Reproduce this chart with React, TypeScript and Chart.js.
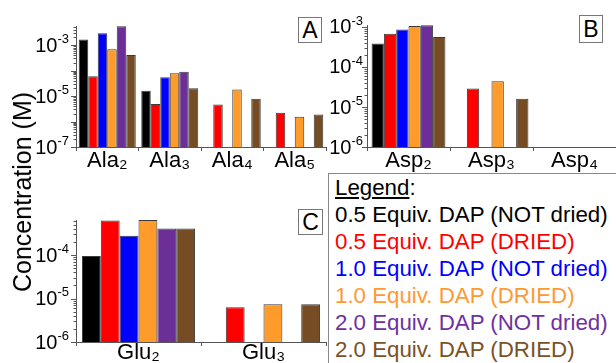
import React, { useEffect, useRef } from 'react';
import { Chart, registerables } from 'chart.js';
Chart.register(...registerables);

const FONT = '"Liberation Sans", Arial, "DejaVu Sans", sans-serif';

const SERIES_LABELS = [
  '0.5 Equiv. DAP (NOT dried)',
  '0.5 Equiv. DAP (DRIED)',
  '1.0 Equiv. DAP (NOT dried)',
  '1.0 Equiv. DAP (DRIED)',
  '2.0 Equiv. DAP (NOT dried)',
  '2.0 Equiv. DAP (DRIED)',
];
const BAR_COLORS = ['#000000', '#ff0000', '#0000ff', '#ff9b2a', '#6b2f97', '#754c24'];
const LEGEND_COLORS = ['#000000', '#ff0000', '#0000ff', '#ff9933', '#7030a0', '#7b5126'];

// Panel A
const A_CATEGORIES = ['Ala₂', 'Ala₃', 'Ala₄', 'Ala₅'];
const A_05_NOT = [1.66e-3, 1.6e-5, null, null];
const A_05_DRIED = [6.0e-5, 4.9e-6, 4.7e-6, 2.2e-6];
const A_10_NOT = [2.9e-3, 5.4e-5, null, null];
const A_10_DRIED = [6.8e-4, 7.8e-5, 1.8e-5, 1.55e-6];
const A_20_NOT = [5.5e-3, 8.9e-5, null, null];
const A_20_DRIED = [4.1e-4, 2.0e-5, 7.9e-6, 1.9e-6];
const A_TICK_VALUES = [1e-7, 1e-5, 1e-3];
const A_TICK_EXPONENTS = ['-7', '-5', '-3'];

// Panel B
const B_CATEGORIES = ['Asp₂', 'Asp₃', 'Asp₄'];
const B_05_NOT = [3.85e-4, null, null];
const B_05_DRIED = [6.8e-4, 2.9e-5, null];
const B_10_NOT = [8.6e-4, null, null];
const B_10_DRIED = [1.05e-3, 4.4e-5, null];
const B_20_NOT = [1.1e-3, null, null];
const B_20_DRIED = [5.6e-4, 1.6e-5, null];
const B_TICK_VALUES = [1e-6, 1e-5, 1e-4, 1e-3];
const B_TICK_EXPONENTS = ['-6', '-5', '-4', '-3'];

// Panel C
const C_CATEGORIES = ['Glu₂', 'Glu₃'];
const C_05_NOT = [9.5e-5, null];
const C_05_DRIED = [6.2e-4, 6.3e-6];
const C_10_NOT = [2.79e-4, null];
const C_10_DRIED = [6.4e-4, 7.4e-6];
const C_20_NOT = [4.1e-4, null];
const C_20_DRIED = [4.1e-4, 7.4e-6];
const C_TICK_VALUES = [1e-6, 1e-5, 1e-4];
const C_TICK_EXPONENTS = ['-6', '-5', '-4'];

const TICK_BASE = '10';

type PanelProps = {
  categories: string[];
  series: (number | null)[][];
  min: number;
  max: number;
  tickValues: number[];
  tickExponents: string[];
  left: number; top: number; width: number; height: number;
  yWidth: number; xHeight: number; padTop: number; padRight: number;
  catPct: number; yPad: number; xPad: number;
};

function makeYPlugin(p: PanelProps) {
  return {
    id: 'yTicksMarks',
    afterDraw(chart: any) {
      const s = chart.scales.y;
      const ctx = chart.ctx;
      ctx.save();
      ctx.strokeStyle = '#555';
      ctx.lineWidth = 1;
      for (const t of s.ticks) {
        const py = Math.round(s.getPixelForValue(t.value)) + 0.5;
        const len = t.major ? 5 : 2.5;
        ctx.beginPath();
        ctx.moveTo(s.right, py);
        ctx.lineTo(s.right - len, py);
        ctx.stroke();
      }
      // tick labels: base "10" with raised exponent
      ctx.fillStyle = '#000';
      const right = s.right - p.yPad;
      for (let i = 0; i < p.tickValues.length; i++) {
        const y = s.getPixelForValue(p.tickValues[i]);
        ctx.font = `13px ${FONT}`;
        const w2 = ctx.measureText(p.tickExponents[i]).width;
        ctx.font = `20px ${FONT}`;
        const w1 = ctx.measureText(TICK_BASE).width;
        ctx.textAlign = 'left';
        ctx.textBaseline = 'middle';
        ctx.fillText(TICK_BASE, right - w2 - w1, y + 1);
        ctx.font = `13px ${FONT}`;
        ctx.fillText(p.tickExponents[i], right - w2, y - 6);
      }
      ctx.restore();
    },
  };
}

function Panel(p: PanelProps) {
  const ref = useRef<HTMLCanvasElement | null>(null);
  useEffect(() => {
    if (!ref.current) return;
    const chart = new Chart(ref.current, {
      type: 'bar',
      data: {
        labels: p.categories,
        datasets: p.series.map((vals, i) => ({
          label: SERIES_LABELS[i],
          data: vals as any,
          backgroundColor: BAR_COLORS[i],
          borderColor: '#3a3a3a',
          borderWidth: 1,
          barPercentage: 1,
          categoryPercentage: p.catPct,
        })),
      },
      options: {
        animation: false,
        responsive: false,
        devicePixelRatio: 1,
        layout: { padding: { top: p.padTop, right: p.padRight, left: 0, bottom: 0 } },
        plugins: { legend: { display: false }, tooltip: { enabled: false }, title: { display: false } },
        scales: {
          x: {
            type: 'category',
            offset: true,
            grid: { display: true, drawOnChartArea: false, offset: true, tickLength: 4, tickColor: '#555' },
            border: { display: true, color: '#555', width: 1 },
            ticks: { color: '#000', font: { family: FONT, size: 22 }, padding: p.xPad, maxRotation: 0, autoSkip: false },
            afterFit: (s: any) => { s.height = p.xHeight; },
          },
          y: {
            type: 'logarithmic',
            min: p.min,
            max: p.max,
            grid: { display: false },
            border: { display: true, color: '#555', width: 1 },
            ticks: {
              color: '#000',
              font: { family: FONT, size: 20 },
              padding: p.yPad,
              autoSkip: false,
              callback: () => '',
            },
            afterBuildTicks: (s: any) => {
              const ticks: any[] = [];
              const e0 = Math.floor(Math.log10(p.min) + 1e-9);
              const e1 = Math.ceil(Math.log10(p.max) - 1e-9);
              for (let e = e0; e <= e1; e++) {
                for (let k = 1; k <= 9; k++) {
                  const v = k * Math.pow(10, e);
                  if (v >= p.min * (1 - 1e-9) && v <= p.max * (1 + 1e-9)) ticks.push({ value: v, major: k === 1 });
                }
              }
              s.ticks = ticks;
            },
            afterFit: (s: any) => { s.width = p.yWidth; },
          },
        },
      } as any,
      plugins: [makeYPlugin(p)],
    });
    return () => chart.destroy();
  }, []);
  return (
    <canvas
      ref={ref}
      width={p.width}
      height={p.height}
      style={{ position: 'absolute', left: p.left, top: p.top, width: p.width, height: p.height }}
    />
  );
}

const boxStyle = (left: number, top: number, w: number, h: number): React.CSSProperties => ({
  position: 'absolute', left, top, width: w, height: h, boxSizing: 'border-box',
  border: '1px solid #777', background: '#fff', fontFamily: FONT, fontSize: 23,
  display: 'flex', alignItems: 'center', justifyContent: 'center', color: '#000', lineHeight: 1,
});

export default function App() {
  return (
    <div style={{ position: 'fixed', left: 0, top: 0, width: 616, height: 363, overflow: 'hidden', background: '#fff' }}>
      <Panel
        categories={A_CATEGORIES}
        series={[A_05_NOT, A_05_DRIED, A_10_NOT, A_10_DRIED, A_20_NOT, A_20_DRIED]}
        min={1e-7} max={5.6e-3}
        tickValues={A_TICK_VALUES} tickExponents={A_TICK_EXPONENTS}
        left={0} top={0} width={330} height={180}
        yWidth={76} xHeight={33} padTop={26} padRight={4}
        catPct={0.912} yPad={7} xPad={-3}
      />
      <Panel
        categories={B_CATEGORIES}
        series={[B_05_NOT, B_05_DRIED, B_10_NOT, B_10_DRIED, B_20_NOT, B_20_DRIED]}
        min={1e-6} max={1.12e-3}
        tickValues={B_TICK_VALUES} tickExponents={B_TICK_EXPONENTS}
        left={320} top={0} width={296} height={180}
        yWidth={47} xHeight={33} padTop={25} padRight={0}
        catPct={0.89} yPad={4} xPad={-3}
      />
      <Panel
        categories={C_CATEGORIES}
        series={[C_05_NOT, C_05_DRIED, C_10_NOT, C_10_DRIED, C_20_NOT, C_20_DRIED]}
        min={1e-6} max={6.4e-4}
        tickValues={C_TICK_VALUES} tickExponents={C_TICK_EXPONENTS}
        left={0} top={180} width={330} height={183}
        yWidth={76} xHeight={21} padTop={40} padRight={4}
        catPct={0.905} yPad={7} xPad={-6}
      />
      <div style={boxStyle(298, 17, 24, 26)}>A</div>
      <div style={boxStyle(579, 15, 24, 28)}>B</div>
      <div style={boxStyle(298, 209, 25, 26)}>C</div>
      <div
        style={{
          position: 'absolute', left: 22, top: 191.5, transform: 'translate(-50%, -50%) rotate(-90deg)',
          fontFamily: FONT, fontSize: 25, whiteSpace: 'nowrap', color: '#000', lineHeight: 1.2,
        }}
      >
        Concentration (M)
      </div>
      <div
        style={{
          position: 'absolute', left: 328, top: 173, width: 320, height: 220, boxSizing: 'border-box',
          borderLeft: '1px solid #888', borderTop: '1px solid #888', paddingLeft: 6, background: '#fff',
          fontFamily: FONT, fontSize: 22.3, lineHeight: '27px', whiteSpace: 'nowrap',
        }}
      >
        <div style={{ color: '#000' }}><span style={{ textDecoration: 'underline' }}>Legend</span>:</div>
        {SERIES_LABELS.map((s, i) => (
          <div key={s} style={{ color: LEGEND_COLORS[i] }}>{s}</div>
        ))}
      </div>
    </div>
  );
}
